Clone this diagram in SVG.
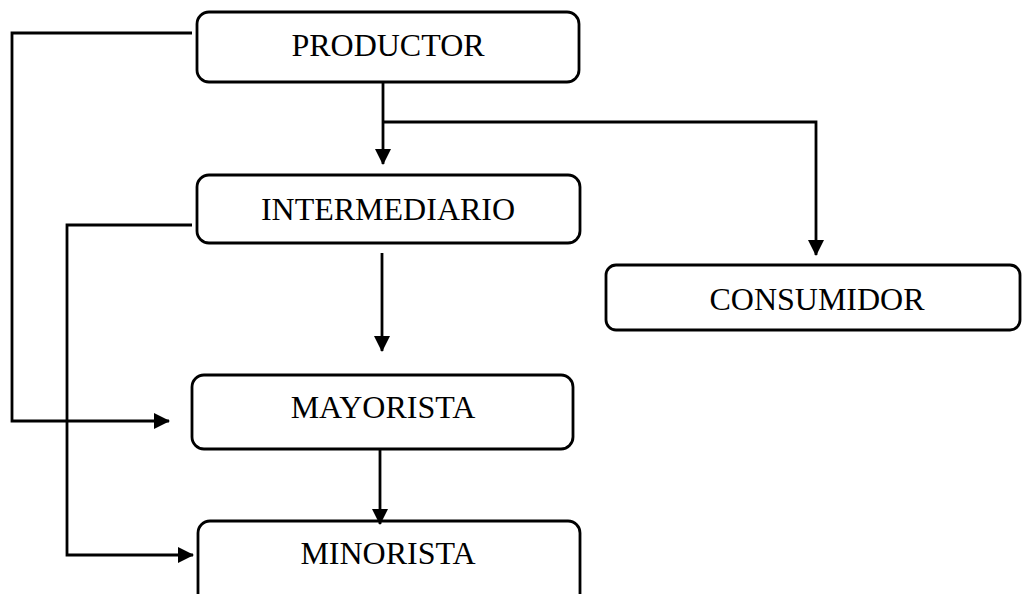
<svg xmlns="http://www.w3.org/2000/svg" width="1022" height="594" viewBox="0 0 1022 594">
  <style>
    .box { fill: #ffffff; stroke: #000000; stroke-width: 2.8; }
    .label { font-family: "Liberation Serif", "Times New Roman", serif; font-size: 32px; fill: #000000; text-anchor: middle; }
    .wire { fill: none; stroke: #000000; stroke-width: 2.8; }
  </style>
  <defs>
    <marker id="arrow" markerWidth="16" markerHeight="16" refX="15" refY="8" orient="auto" markerUnits="userSpaceOnUse">
      <path d="M0,0 L16,8 L0,16 Z" fill="#000000"/>
    </marker>
  </defs>
  <rect width="1022" height="594" fill="#ffffff"/>

  <g id="productor">
    <rect class="box" x="197" y="12" width="382" height="70" rx="12"/>
    <text class="label" x="388" y="56">PRODUCTOR</text>
  </g>
  <g id="intermediario">
    <rect class="box" x="197" y="175" width="383" height="68" rx="12"/>
    <text class="label" x="388" y="220">INTERMEDIARIO</text>
  </g>
  <g id="consumidor">
    <rect class="box" x="606" y="265" width="414" height="65" rx="10"/>
    <text class="label" x="817" y="310">CONSUMIDOR</text>
  </g>
  <g id="mayorista">
    <rect class="box" x="192" y="375" width="381" height="74" rx="12"/>
    <text class="label" x="383" y="418">MAYORISTA</text>
  </g>
  <g id="minorista">
    <rect class="box" x="198" y="521" width="382" height="90" rx="12"/>
    <text class="label" x="388" y="564">MINORISTA</text>
  </g>

  <g id="connectors">
    <!-- productor -> intermediario -->
    <path class="wire" d="M383,82 V164" marker-end="url(#arrow)"/>
    <!-- productor -> consumidor -->
    <path class="wire" d="M383,122 H816 V255" marker-end="url(#arrow)"/>
    <!-- productor -> mayorista (left loop) -->
    <path class="wire" d="M192,33 H12 V421 H169" marker-end="url(#arrow)"/>
    <!-- intermediario -> mayorista -->
    <path class="wire" d="M382,253 V351" marker-end="url(#arrow)"/>
    <!-- intermediario -> minorista (left loop) -->
    <path class="wire" d="M192,225 H67 V555 H193" marker-end="url(#arrow)"/>
    <!-- mayorista -> minorista -->
    <path class="wire" d="M380,449 V524" marker-end="url(#arrow)"/>
  </g>
</svg>
